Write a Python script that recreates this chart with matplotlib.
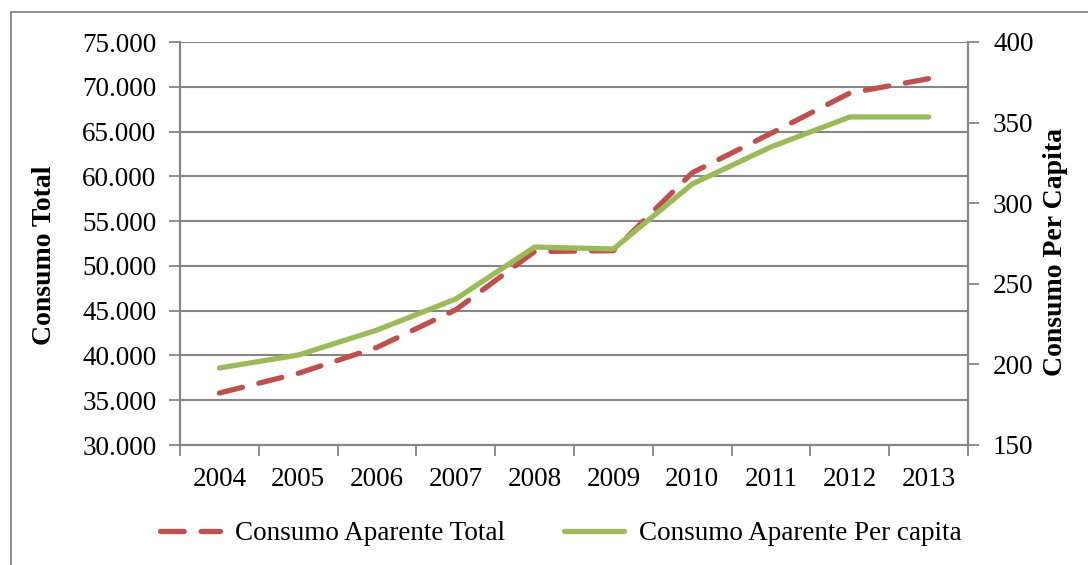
import matplotlib
matplotlib.use("Agg")
import matplotlib.pyplot as plt
from matplotlib.ticker import FuncFormatter, FixedLocator
from matplotlib.lines import Line2D
from matplotlib.patches import Rectangle

# data
years = ["2004", "2005", "2006", "2007", "2008", "2009", "2010", "2011", "2012", "2013"]
consumo_total = [35800, 38000, 40900, 45100, 51600, 51700, 60400, 64800, 69300, 70900]
consumo_per_capita = [197.8, 205.8, 221.3, 240.6, 272.8, 271.6, 311.9, 334.9, 353.5, 353.5]

red = "#C0504D"
green = "#9BBB59"
grey = "#868686"

plt.rcParams['font.family'] = ['Liberation Serif', 'DejaVu Serif']
fs = 19.5

fig = plt.figure(figsize=(10.88, 5.65), dpi=100)
ax = fig.add_axes([180/1088, 1 - 445/565, (968 - 180)/1088, (445 - 42)/565])
ax2 = ax.twinx()

x = list(range(len(years)))

ax.plot(x, consumo_total, color=red, lw=3.8, dashes=(4.5, 3.2),
        dash_capstyle='round', zorder=3)
ax2.plot(x, consumo_per_capita, color=green, lw=3.8, solid_capstyle='round', zorder=3)

# left axis
ax.set_ylim(30000, 75000)
ax.set_yticks(range(30000, 75001, 5000))
ax.yaxis.set_major_formatter(FuncFormatter(lambda v, p: f"{int(v):,}".replace(",", ".")))
ax.grid(axis='y', color=grey, lw=1.5)
ax.set_axisbelow(True)

# category axis
ax.set_xlim(-0.5, 9.5)
ax.set_xticks(x)
ax.set_xticklabels(years)
ax.xaxis.set_minor_locator(FixedLocator([i - 0.5 for i in range(len(years) + 1)]))
ax.tick_params(axis='x', which='major', length=0, pad=16, labelsize=fs)
ax.tick_params(axis='x', which='minor', length=8, width=1.3, color=grey)
ax.tick_params(axis='y', length=8, width=1.3, color=grey, pad=9, labelsize=fs)

# right axis
ax2.set_ylim(150, 400)
ax2.set_yticks(range(150, 401, 50))
ax2.tick_params(axis='y', length=8, width=1.3, color=grey, pad=10, labelsize=fs)

for a in (ax, ax2):
    a.spines['top'].set_visible(False)
    for s in ('left', 'bottom', 'right'):
        a.spines[s].set_color(grey)
        a.spines[s].set_linewidth(1.5)

fig.text(45/1088, 1 - 255/565, "Consumo Total", rotation=90, ha='center', va='center',
         fontsize=20, fontweight='bold')
fig.text(1055/1088, 1 - 252/565, "Consumo Per Capita", rotation=90, ha='center', va='center',
         fontsize=20, fontweight='bold')

# outer chart frame (only left and top visible in the crop)
fig.patches.append(Rectangle((11/1088, -0.1), 1.2, 1 - 12/565 + 0.1, transform=fig.transFigure,
                             fill=False, ec=grey, lw=1.3))

handles = [Line2D([], [], color=red, lw=3.8, dashes=(4.5, 3.2), dash_capstyle='round'),
           Line2D([], [], color=green, lw=3.8, solid_capstyle='round')]
fig.legend(handles, ["Consumo Aparente Total", "Consumo Aparente Per capita"],
           loc='center', bbox_to_anchor=(561/1088, 1 - 534/565), ncol=2, frameon=False,
           fontsize=fs, handlelength=2.2, handletextpad=0.55, columnspacing=2.2)

fig.savefig("out.png", dpi=100)
